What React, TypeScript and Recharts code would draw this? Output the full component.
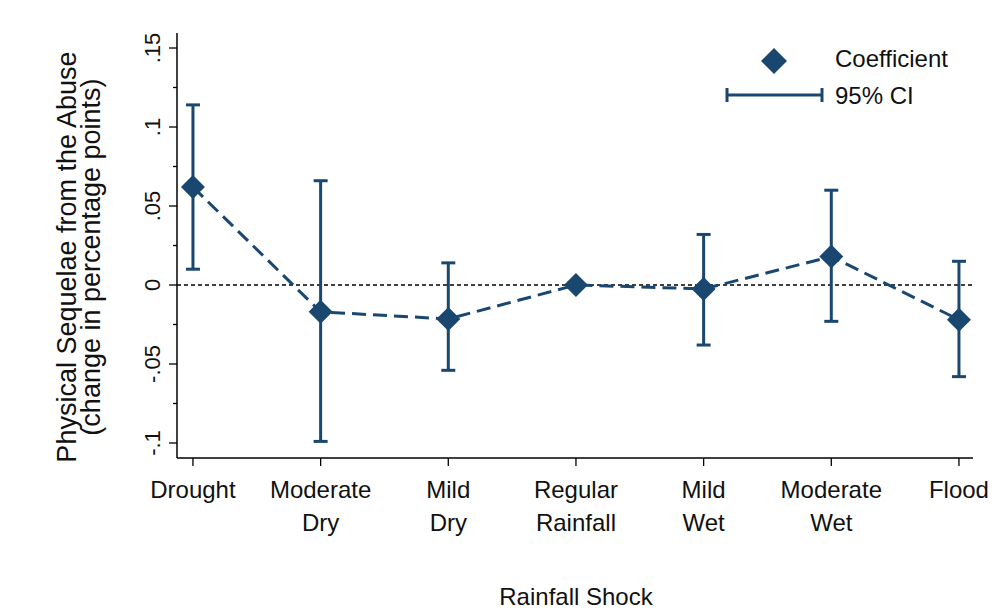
import React from "react";
import {
  ComposedChart,
  Line,
  Scatter,
  ErrorBar,
  XAxis,
  YAxis,
  ReferenceLine,
  Legend,
} from "recharts";

const categories = [
  ["Drought"],
  ["Moderate", "Dry"],
  ["Mild", "Dry"],
  ["Regular", "Rainfall"],
  ["Mild", "Wet"],
  ["Moderate", "Wet"],
  ["Flood"],
];
const coefficients = [0.062, -0.017, -0.0215, 0, -0.0025, 0.018, -0.022];
const ciLow = [0.01, -0.099, -0.054, 0, -0.038, -0.023, -0.058];
const ciHigh = [0.114, 0.066, 0.014, 0, 0.032, 0.06, 0.015];

const majorTicks = [-0.1, -0.05, 0, 0.05, 0.1, 0.15];
const majorLabels = ["-.1", "-.05", "0", ".05", ".1", ".15"];
const minorTicks = [-0.075, -0.025, 0.025, 0.075, 0.125];

const navy = "#1a476f";
const font = "'Liberation Sans', Arial, sans-serif";

const data = categories.map((_, i) => ({
  x: i,
  coef: coefficients[i],
  err: [coefficients[i] - ciLow[i], ciHigh[i] - coefficients[i]],
}));

function YTick({ x, y, payload }: any) {
  const idx = majorTicks.findIndex((t) => Math.abs(t - payload.value) < 1e-9);
  const major = idx >= 0;
  return (
    <g>
      <line x1={x} x2={x - (major ? 8 : 4)} y1={y} y2={y} stroke="#000" strokeWidth={1.3} />
      {major && (
        <text
          transform={`translate(${x - 17},${y}) rotate(-90)`}
          textAnchor="middle"
          fontSize={22}
          fontFamily={font}
          fill="#111"
        >
          {majorLabels[idx]}
        </text>
      )}
    </g>
  );
}

function XTick({ x, y, payload }: any) {
  const lines = categories[payload.value] || [];
  return (
    <text textAnchor="middle" fontSize={24} fontFamily={font} fill="#111">
      {lines.map((l, i) => (
        <tspan key={i} x={x} y={y + 32 + i * 33}>
          {l}
        </tspan>
      ))}
    </text>
  );
}

function Diamond({ cx, cy }: any) {
  const r = 12;
  return (
    <polygon
      points={`${cx},${cy - r} ${cx + r},${cy} ${cx},${cy + r} ${cx - r},${cy}`}
      fill={navy}
    />
  );
}

function LegendBox() {
  const r = 13;
  return (
    <svg width={280} height={90} style={{ display: "block" }}>
      <polygon points={`74,${31 - r} ${74 + r},31 74,${31 + r} ${74 - r},31`} fill={navy} />
      <text x={135} y={37} fontSize={24} fontFamily={font} fill="#111">
        Coefficient
      </text>
      <line x1={27} x2={122} y1={65} y2={65} stroke={navy} strokeWidth={3} />
      <line x1={27} x2={27} y1={58} y2={72} stroke={navy} strokeWidth={3} />
      <line x1={122} x2={122} y1={58} y2={72} stroke={navy} strokeWidth={3} />
      <text x={135} y={74} fontSize={24} fontFamily={font} fill="#111">
        95% CI
      </text>
    </svg>
  );
}

export default function App() {
  return (
    <div style={{ position: "absolute", left: 0, top: 0, width: 997, height: 611, background: "#fff" }}>
      <ComposedChart
        width={997}
        height={611}
        data={data}
        margin={{ top: 33, right: 24, bottom: 123, left: 117 }}
      >
        <XAxis
          dataKey="x"
          type="number"
          domain={[-0.125, 6.11]}
          ticks={[0, 1, 2, 3, 4, 5, 6]}
          interval={0}
          height={30}
          tickSize={8}
          tickMargin={0}
          tick={<XTick />}
          tickLine={{ stroke: "#000", strokeWidth: 1.3 }}
          axisLine={{ stroke: "#000", strokeWidth: 1.5 }}
          allowDataOverflow
          label={{
            content: () => (
              <text x={576} y={605} textAnchor="middle" fontSize={24} fontFamily={font} fill="#111">
                Rainfall Shock
              </text>
            ),
          }}
        />
        <YAxis
          type="number"
          domain={[-0.1095, 0.1595]}
          ticks={[...majorTicks, ...minorTicks].sort((a, b) => a - b)}
          interval={0}
          width={60}
          tickSize={0}
          tickMargin={0}
          tick={<YTick />}
          tickLine={false}
          axisLine={{ stroke: "#000", strokeWidth: 1.5 }}
          allowDataOverflow
          label={{
            content: () => (
              <text
                transform="translate(76,257) rotate(-90)"
                textAnchor="middle"
                fontSize={27}
                fontFamily={font}
                fill="#111"
              >
                <tspan x={0} y={0}>Physical Sequelae from the Abuse</tspan>
                <tspan x={0} y={24}>(change in percentage points)</tspan>
              </text>
            ),
          }}
        />
        <ReferenceLine y={0} stroke="#000" strokeWidth={1.3} strokeDasharray="4 3" />
        <Line
          dataKey="coef"
          stroke={navy}
          strokeWidth={3}
          strokeDasharray="14 7"
          dot={false}
          isAnimationActive={false}
          legendType="none"
        />
        <Scatter dataKey="coef" shape={<Diamond />} isAnimationActive={false}>
          <ErrorBar dataKey="err" direction="y" width={7} stroke={navy} strokeWidth={3} isAnimationActive={false} />
        </Scatter>
        <Legend
          layout="vertical"
          align="center"
          verticalAlign="middle"
          content={<LegendBox />}
          wrapperStyle={{ left: 700, top: 30, width: 280, height: 90 }}
        />
      </ComposedChart>
    </div>
  );
}
